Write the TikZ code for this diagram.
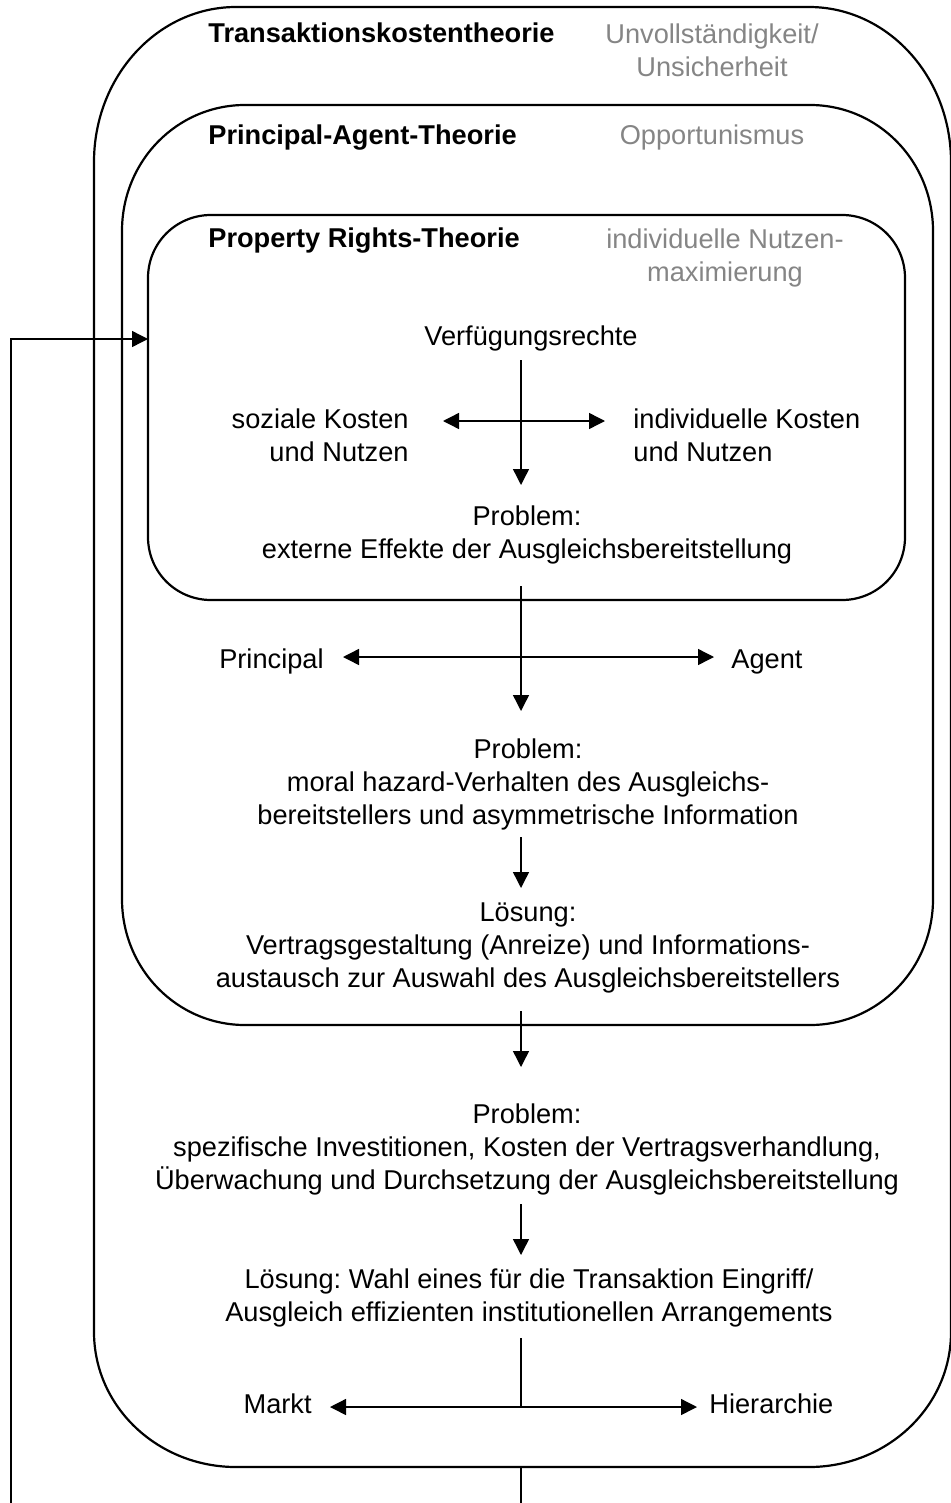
\documentclass[tikz,border=0pt]{standalone}
\usepackage{fontspec}
\setmainfont{Liberation Sans}
\usepackage{tikz}
\usetikzlibrary{positioning,arrows.meta}
\definecolor{softgray}{gray}{0.52}
\newcommand{\bodysize}{\fontsize{13.6}{16.5}\selectfont}
\frenchspacing
\tikzset{
  frame/.style={draw, line width=1.1pt},
  txt/.style={inner sep=0pt, font=\bodysize},
  block/.style={txt, align=center, anchor=north},
  theory/.style={txt, font=\bodysize\bfseries, anchor=base west},
  cause/.style={txt, text=softgray, align=center},
  plain/.style={line width=0.7pt},
  fwd/.style={plain, -{Triangle[length=8pt,width=8pt]}},
  both/.style={plain, {Triangle[length=8pt,width=8pt]}-{Triangle[length=8pt,width=8pt]}},
}

\begin{document}
\begin{tikzpicture}[x=0.5pt, y=-0.5pt]
\useasboundingbox (0,0) rectangle (950,1503);

%Boxes
\draw[frame] (94,162) .. controls +(0,-86) and +(-78,0) .. (236,7) -- (809,7) .. controls +(78,0) and +(0,-86) .. (951,162) -- (951,1332) .. controls +(0,75) and +(78,0) .. (809,1467) -- (236,1467) .. controls +(-78,0) and +(0,75) .. (94,1332) -- cycle;
\draw[frame] (122,231) .. controls +(0,-70) and +(-68,0) .. (245,105) -- (810,105) .. controls +(68,0) and +(0,-70) .. (933,231) -- (933,899) .. controls +(0,70) and +(68,0) .. (810,1025) -- (245,1025) .. controls +(-68,0) and +(0,70) .. (122,899) -- cycle;
\draw[frame] (148,278) .. controls +(0,-35) and +(-35,0) .. (211,215) -- (842,215) .. controls +(35,0) and +(0,-35) .. (905,278) -- (905,537) .. controls +(0,35) and +(35,0) .. (842,600) -- (211,600) .. controls +(-35,0) and +(0,35) .. (148,537) -- cycle;

%Coordinates
\coordinate (axis) at (521,0);
\coordinate (cross1) at (521,421);
\coordinate (cross2) at (521,657);
\coordinate (cross3) at (521,1407);
\coordinate (prwest) at (148,339);
\coordinate (loopstart) at (11,1503);
\coordinate (tkbottom) at (521,1467);
\coordinate (exit) at (521,1503);

%Nodes
\node[theory] (tktitle) at (208,43) {Transaktionskostentheorie};
\node[cause, anchor=north] (tkcause) at (712,23) {Unvollständigkeit/\\Unsicherheit};
\node[theory] (patitle) at (208,145) {Principal-Agent-Theorie};
\node[cause, anchor=base] (pacause) at (712,145) {Opportunismus};
\node[theory] (prtitle) at (208,248) {Property Rights-Theorie};
\node[cause, anchor=north] (prcause) at (725,228) {individuelle Nutzen-\\maximierung};

\node[txt, anchor=base] (rights) at (531,345) {Verfügungsrechte};
\node[txt, align=right, anchor=north east] (social) at (409,408) {soziale Kosten\\und Nutzen};
\node[txt, align=left, anchor=north west] (private) at (633,408) {individuelle Kosten\\und Nutzen};
\node[block] (problem1) at (527,505) {Problem:\\externe Effekte der Ausgleichsbereitstellung};

\node[txt, anchor=base east] (principal) at (324,668) {Principal};
\node[txt, anchor=base west] (agent) at (731,668) {Agent};
\node[block] (problem2) at (528,738) {Problem:\\moral hazard-Verhalten des Ausgleichs-\\bereitstellers und asymmetrische Information};
\node[block] (solution1) at (528,902) {Lösung:\\Vertragsgestaltung (Anreize) und Informations-\\austausch zur Auswahl des Ausgleichsbereitstellers};

\node[block] (problem3) at (527,1103) {Problem:\\spezifische Investitionen, Kosten der Vertragsverhandlung,\\Überwachung und Durchsetzung der Ausgleichsbereitstellung};
\node[block] (solution2) at (529,1268) {Lösung: Wahl eines für die Transaktion Eingriff/\\Ausgleich effizienten institutionellen Arrangements};
\node[txt, anchor=base east] (market) at (312,1413) {Markt};
\node[txt, anchor=base west] (hierarchy) at (709,1413) {Hierarchie};

%Lines
\draw[fwd, shorten <=4.5pt, shorten >=10pt] (rights.south -| axis) -- (problem1.north -| axis);
\draw[both, shorten <=17pt, shorten >=14pt] (social.east |- cross1) -- (private.west |- cross1);
\draw[fwd, shorten <=11pt, shorten >=13.5pt] (problem1.south -| axis) -- (problem2.north -| axis);
\draw[both, shorten <=9.5pt, shorten >=8.5pt] (principal.east |- cross2) -- (agent.west |- cross2);
\draw[fwd, shorten <=3.5pt, shorten >=7pt] (problem2.south -| axis) -- (solution1.north -| axis);
\draw[fwd, shorten <=9pt, shorten >=18pt] (solution1.south -| axis) -- (problem3.north -| axis);
\draw[fwd, shorten <=4.5pt, shorten >=6.5pt] (problem3.south -| axis) -- (solution2.north -| axis);
\draw[plain, shorten <=5.5pt] (solution2.south -| axis) -- (cross3);
\draw[both, shorten <=9pt, shorten >=6pt] (market.east |- cross3) -- (hierarchy.west |- cross3);
\draw[plain] (tkbottom) -- (exit);
\draw[fwd] (loopstart) |- (prwest);
\end{tikzpicture}
\end{document}
